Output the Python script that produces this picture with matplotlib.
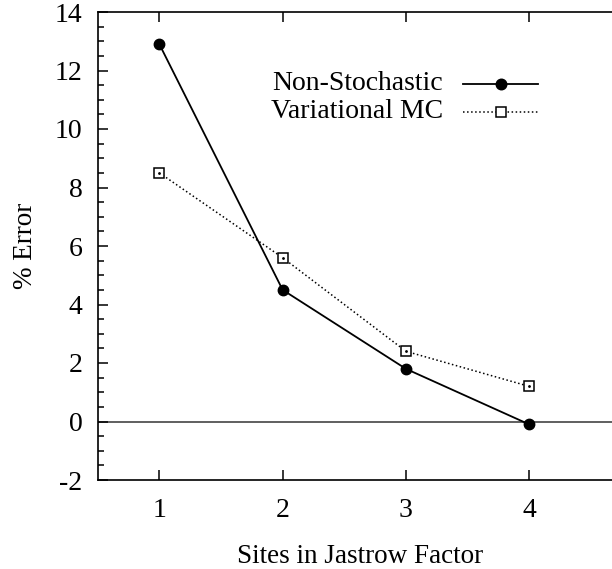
import matplotlib
matplotlib.use("Agg")
import matplotlib.pyplot as plt
from matplotlib.ticker import MultipleLocator
from matplotlib.lines import Line2D

plt.rcParams['font.family'] = ['Liberation Serif', 'DejaVu Serif']
plt.rcParams['axes.unicode_minus'] = False

sites = [1, 2, 3, 4]
non_stochastic = [12.9, 4.5, 1.8, -0.1]
variational_mc = [8.5, 5.6, 2.4, 1.2]
series_labels = ["Non-Stochastic", "Variational MC"]
x_label = "Sites in Jastrow Factor"
y_label = "% Error"

W, H = 612, 569
fig = plt.figure(figsize=(W / 100, H / 100), dpi=100)

left_px, right_px, top_px, bottom_px = 97.7, 621.7, 12, 480
ax = fig.add_axes([left_px / W, 1 - bottom_px / H,
                   (right_px - left_px) / W, (bottom_px - top_px) / H])
ax.set_xlim(0.5, 4.75)
ax.set_ylim(-2, 14)

ax.axhline(0, color='#444444', lw=1.2, zorder=1)

ax.plot(sites, non_stochastic, linestyle='-', color='black', lw=1.3,
        marker='o', ms=7.5, mfc='black', mec='black', zorder=3)
ax.plot(sites, variational_mc, linestyle=':', color='black', lw=1.1,
        marker='s', ms=7, mfc='white', mec='black', mew=1.1, zorder=3)
ax.plot(sites, variational_mc, linestyle='none', marker='.', ms=2,
        color='black', zorder=4)

ax.set_xticks(sites)
ax.yaxis.set_major_locator(MultipleLocator(2))
ax.yaxis.set_minor_locator(MultipleLocator(0.5))
ax.tick_params(axis='both', which='major', direction='in', length=7, width=1.1,
               labelsize=20, top=True, right=True)
ax.tick_params(axis='y', which='minor', direction='in', length=4, width=1.1,
               left=True, right=True)
ax.tick_params(axis='y', pad=11)
ax.tick_params(axis='x', pad=13)
for s in ax.spines.values():
    s.set_linewidth(1.2)

ax.set_xlabel(x_label, fontsize=19.5, labelpad=15)
ax.set_ylabel(y_label, fontsize=19.5, labelpad=12)

# key
text_right = 443
sample_x0, sample_x1 = 463, 538
rows = [84, 112]
styles = [dict(ls='-', lw=1.3, marker='o', ms=7.5, mfc='black'),
          dict(ls=':', lw=1.1, marker='s', ms=7, mfc='white')]
for label, y, st in zip(series_labels, rows, styles):
    yy = 1 - y / H
    fig.text(text_right / W, yy, label, ha='right', va='center', fontsize=20)
    fig.add_artist(Line2D([sample_x0 / W, sample_x1 / W], [yy, yy], color='black',
                          lw=st['lw'], ls=st['ls'], transform=fig.transFigure))
    fig.add_artist(Line2D([(sample_x0 + sample_x1) / 2 / W], [yy], color='black',
                          marker=st['marker'], ms=st['ms'], mfc=st['mfc'],
                          mec='black', mew=1.1, ls='none', transform=fig.transFigure))

fig.savefig("out.png", dpi=100)
